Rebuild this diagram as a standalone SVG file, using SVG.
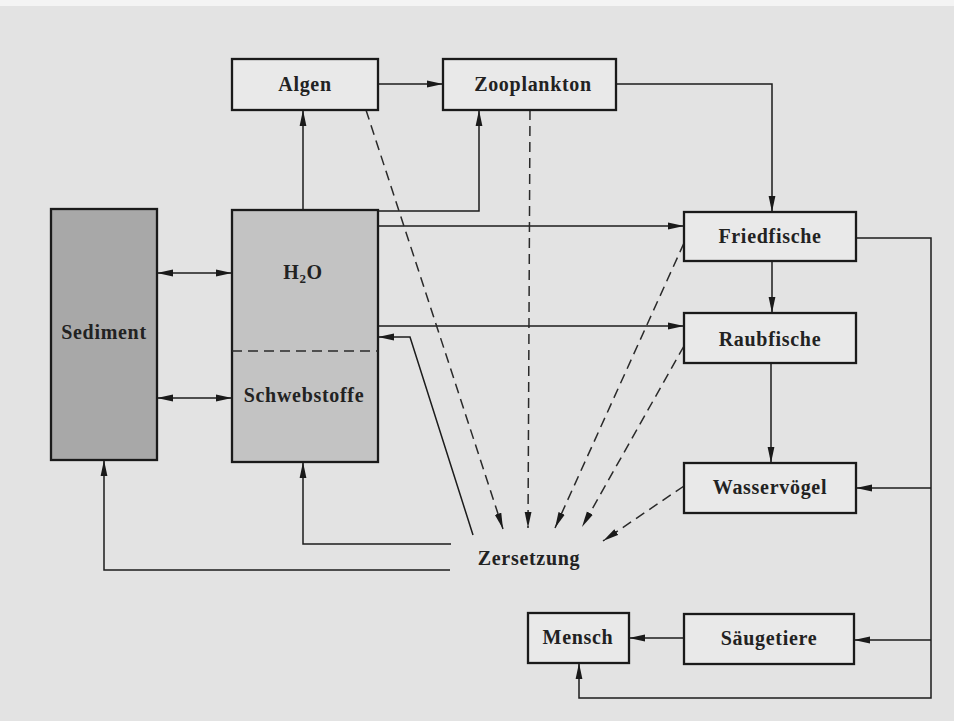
<svg xmlns="http://www.w3.org/2000/svg" width="954" height="721" viewBox="0 0 954 721">
<defs>
<marker id="ah" viewBox="0 0 16 8" refX="16" refY="4" markerWidth="16" markerHeight="8" markerUnits="userSpaceOnUse" orient="auto-start-reverse">
<path d="M0,0.6 L16,4 L0,7.4 z" fill="#1a1a1a"/>
</marker>
<style>
.box{fill:#e9e9e9;stroke:#1a1a1a;stroke-width:2.3}
.sed{fill:#a8a8a8;stroke:#1a1a1a;stroke-width:2.3}
.h2o{fill:#c3c3c3;stroke:#1a1a1a;stroke-width:2.3}
.lbl{font-family:"Liberation Serif","DejaVu Serif",serif;font-weight:bold;font-size:20px;letter-spacing:0.7px;fill:#222;text-anchor:middle}
.c{fill:none;stroke:#1c1c1c;stroke-width:1.5}
.d{fill:none;stroke:#2a2a2a;stroke-width:1.5;stroke-dasharray:10 6}
.a{marker-end:url(#ah)}
.b{marker-start:url(#ah);marker-end:url(#ah)}
</style>
</defs>
<rect x="0" y="0" width="954" height="721" fill="#f4f4f4"/>
<rect x="0" y="6" width="954" height="715" fill="#e3e3e3"/>

<g id="connectors">
<path class="c a" d="M378,84 H443"/>
<path class="c a" d="M616,84 H772 V212"/>
<path class="c a" d="M303,210 V110"/>
<path class="c a" d="M378,211 H479 V110"/>
<path class="c a" d="M378,226 H684"/>
<path class="c a" d="M378,326 H684"/>
<path class="c a" d="M473,535 L410,337 H378"/>
<path class="c a" d="M451,544 H303 V462"/>
<path class="c a" d="M450,570 H104 V460"/>
<path class="c b" d="M157,273 H232"/>
<path class="c b" d="M157,398 H232"/>
<path class="c b" d="M303,306 V382"/>
<path class="c a" d="M772,261 V313"/>
<path class="c a" d="M771,363 V463"/>
<path class="c a" d="M856,238 H931 V698 H579 V663"/>
<path class="c a" d="M931,488 H856"/>
<path class="c a" d="M931,640 H854"/>
<path class="c a" d="M684,638 H629"/>
<path class="d a" d="M366,110 L503,529"/>
<path class="d a" d="M530,110 L528,528"/>
<path class="d a" d="M684,243 L555,528"/>
<path class="d a" d="M684,346 L582,527"/>
<path class="d a" d="M684,486 L603,541"/>
</g>

<g id="algen"><rect class="box" x="232" y="59" width="146" height="51"/><text class="lbl" x="305" y="91">Algen</text></g>
<g id="zooplankton"><rect class="box" x="443" y="59" width="173" height="51"/><text class="lbl" x="533" y="91">Zooplankton</text></g>
<g id="sediment"><rect class="sed" x="51" y="209" width="106" height="251"/><text class="lbl" x="104" y="339">Sediment</text></g>
<g id="wasser">
<rect class="h2o" x="232" y="210" width="146" height="252"/>
<line x1="232" y1="351" x2="378" y2="351" class="d"/>
<text class="lbl" x="303" y="279">H<tspan font-size="13" dy="4">2</tspan><tspan dy="-4">O</tspan></text>
<text class="lbl" x="304" y="402">Schwebstoffe</text>
</g>
<g id="friedfische"><rect class="box" x="684" y="212" width="172" height="49"/><text class="lbl" x="770" y="243">Friedfische</text></g>
<g id="raubfische"><rect class="box" x="684" y="313" width="172" height="50"/><text class="lbl" x="770" y="346">Raubfische</text></g>
<g id="wasservoegel"><rect class="box" x="684" y="463" width="172" height="50"/><text class="lbl" x="770" y="494">Wasservögel</text></g>
<g id="zersetzung"><text class="lbl" x="529" y="565">Zersetzung</text></g>
<g id="mensch"><rect class="box" x="528" y="613" width="101" height="50"/><text class="lbl" x="578" y="644">Mensch</text></g>
<g id="saeugetiere"><rect class="box" x="684" y="614" width="170" height="50"/><text class="lbl" x="769" y="645">Säugetiere</text></g>
</svg>
